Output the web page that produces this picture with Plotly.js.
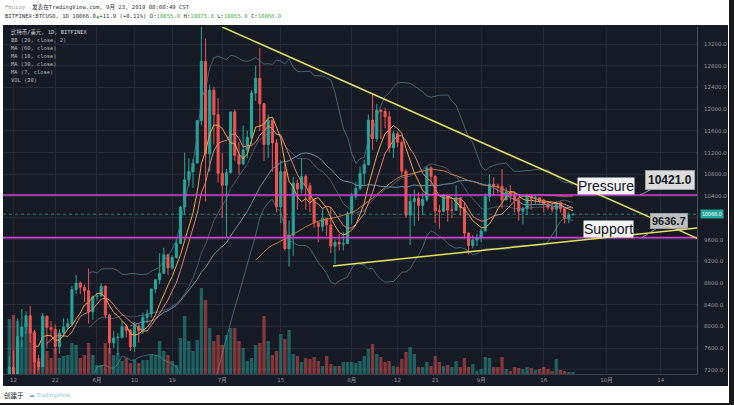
<!DOCTYPE html>
<html><head><meta charset="utf-8">
<script src="https://cdn.plot.ly/plotly-3.0.1.min.js"></script>
<style>html,body{margin:0;padding:0;background:#fff;overflow:hidden}#chart{width:734px;height:405px}</style>
</head><body><div id="chart"></div>
<script>
// ---- data (daily candles, first day 2019-05-11) ----
const firstDay = [2019, 4, 11];
const opens = [6350,7250,6970,7810,7990,8200,7880,7350,7260,8190,7980,7950,7630,7880,7990,8050,8680,8800,8720,8660,8270,
8550,8560,8740,8210,7700,7790,7800,8000,7930,7630,8010,7920,8170,8230,8690,8860,8980,9320,9080,9270,9530,10200,10700,10850,11010,11790,12880,11180,12350,11900,
10820,10600,10830,11950,11150,10990,11250,11480,12300,12570,12100,11350,11800,11380,10200,10850,9430,9680,10640,10530,10760,10590,10330,9910,9840,9990,9870,9480,9550,9520,9530,
10080,10400,10540,10820,10980,11800,11460,11980,11960,11860,11290,11550,11390,10860,10050,10300,10360,10230,10340,10920,10760,10130,10120,10400,10140,10140,10370,10190,9720,9490,9590,
9630,9760,10390,10620,10590,10580,10330,10480,10400,10330,10120,10170,10410,10360,10370,10310,10260,10190,10160,10280,10170,9990,10055];
const highs = [7450,7550,8150,8320,8280,8380,7940,7480,8250,8200,8100,8040,7950,8150,8150,8750,8950,8830,8770,9070,8570,
8620,8800,8760,8230,7920,7880,8100,8040,7960,8080,8040,8260,8310,8700,8870,9350,9450,9340,9310,9600,10220,11200,11100,11080,11800,13880,13300,12450,12420,12200,
11200,10900,11950,12000,11400,11700,11600,12350,12800,13130,12100,11900,11800,11450,11050,11000,9950,10750,10700,11100,10800,10650,10350,9920,10180,10000,10200,9600,9700,9740,10120,
10460,10660,10940,11070,11900,12300,12100,12000,12030,11960,11600,11590,11430,10900,10430,10520,10470,10470,10950,10950,10780,10240,10440,10400,10330,10600,10380,10290,9730,9680,9700,
9800,10450,10800,10750,10630,10900,10560,10600,10480,10380,10200,10450,10440,10420,10380,10350,10270,10280,10300,10300,10180,10100,10075];
const lows = [6350,6800,6880,7620,7860,7700,6600,7200,7260,7600,7800,7500,7500,7800,7950,8000,8600,8600,8450,8060,8120,
8480,8550,8150,7520,7600,7470,7780,7800,7550,7530,7700,7860,8060,8160,8620,8780,8980,8950,9050,9250,9530,10050,10580,10550,11000,11700,10300,10850,11350,10650,
10000,9650,10820,11050,10800,10980,11100,11350,12150,11600,11050,11100,10850,10100,9900,9400,9100,9300,10150,10450,10150,10100,9820,9550,9750,9670,9350,9150,9400,9400,9530,
9880,10340,10500,10600,10960,11250,11400,11450,11650,11200,11100,11300,10750,10000,9500,9850,9950,10050,10300,10600,9900,9800,10100,9930,10000,10140,10040,9620,9330,9440,9480,
9550,9750,10300,10400,10450,10170,10330,10300,10100,9950,9880,10050,10150,10250,10270,10100,10150,10100,9620,10100,9900,9900,10055];
const closes = [7250,6970,7810,7990,8200,7880,7350,7260,8190,7980,7950,7630,7880,7990,8050,8680,8800,8720,8660,8270,8550,
8560,8740,8210,7700,7790,7800,8000,7930,7630,8010,7920,8170,8230,8690,8860,8980,9320,9080,9270,9530,10200,10700,10850,11010,11790,12880,11180,12350,11900,10820,
10600,10830,11950,11150,10990,11250,11480,12300,12570,12100,11350,11800,11380,10200,10850,9430,9680,10640,10530,10760,10590,10330,9910,9840,9990,9870,9480,9550,9520,9530,10080,
10400,10540,10820,10980,11800,11460,11980,11960,11860,11290,11550,11390,10860,10050,10300,10360,10230,10340,10920,10760,10130,10120,10400,10140,10140,10370,10190,9720,9490,9590,9630,
9760,10390,10620,10590,10580,10330,10480,10400,10330,10120,10170,10410,10360,10370,10310,10260,10190,10160,10280,10170,9990,10054,10066];
// volume, BTC
const volumes = [27500,29500,26500,17000,25500,23000,21500,8000,29000,11500,8000,13000,8000,9000,9500,15500,14500,8000,9500,15500,9500,
4500,4500,15500,13000,9500,10500,6500,8000,5500,7000,5500,7000,7000,9500,9500,16500,11500,9500,6500,4500,18000,29000,16500,11500,17000,43000,37000,23000,16500,19500,
14500,19500,23000,23000,16500,13000,6500,8000,14500,15500,29000,16500,9500,11500,20000,17500,22000,10000,9000,6000,8000,7500,8500,6500,4000,9000,5000,4000,4000,6000,6000,
6000,5500,6500,9000,12500,15000,10000,8500,6000,6500,4000,3500,7500,11000,13500,10000,3500,3500,6000,4000,9000,6000,4000,4500,3500,6500,3500,8000,3500,5000,1500,
2500,8500,8000,3500,3500,8500,2500,1500,3500,3000,2500,3500,3000,2000,2500,3500,2500,1500,7500,2000,1500,1000,1000];
// x-axis ticks
const tickDates = ['2019-05-12','2019-05-22','2019-06-01','2019-06-10','2019-06-19','2019-07-01','2019-07-15','2019-08-01','2019-08-12','2019-08-21','2019-09-01','2019-09-16','2019-10-01','2019-10-14'];
const tickText = ['12','22','6月','10','19','7月','15','8月','12','21','9月','16','10月','14'];
const priceTicks = [7200,7600,8000,8400,8800,9200,9600,10000,10400,10800,11200,11600,12000,12400,12800,13200];
const hiddenTick = 10000; // covered by the last-price label
// drawn levels and trend lines
const pressureLevel = 10421.0;
const supportLevel = 9636.7;
const lastPrice = 10066.0;
const upperTrend = {x:['2019-07-01 00:00','2019-10-23 00:00'], y:[13513,9614]};
const lowerTrend = {x:['2019-07-27 12:00','2019-10-23 00:00'], y:[9114,9816]};
const legendLines = ['比特币/美元, 1D, BITFINEX','BB (20, close, 2)','MA (60, close)','MA (10, close)','MA (30, close)','MA (7, close)','VOL (20)'];

// ---- helpers ----
function dayStr(i){const d=new Date(Date.UTC(firstDay[0],firstDay[1],firstDay[2]+i));return d.toISOString().slice(0,10);}
const dates = closes.map((_,i)=>dayStr(i));
function sma(a,n){return a.map((_,i)=>i<n-1?null:a.slice(i-n+1,i+1).reduce((s,v)=>s+v,0)/n);}
function boll(a,n,k){const m=sma(a,n),u=[],l=[];a.forEach((_,i)=>{if(i<n-1){u.push(null);l.push(null);return;}const w=a.slice(i-n+1,i+1);const sd=Math.sqrt(w.reduce((s,v)=>s+(v-m[i])*(v-m[i]),0)/n);u.push(m[i]+k*sd);l.push(m[i]-k*sd);});return {m,u,l};}
const bb = boll(closes,20,2);

const UP='#26a69a', DN='#ef5350';
const L=3,R=697,T=27,B=374;
const px=x=>(x-L)/(R-L), py=y=>(B-y)/(B-T);

const traces = [
 {type:'bar', x:dates, y:volumes, yaxis:'y2', width:0.8*86400000,
  marker:{color:volumes.map((_,i)=>closes[i]>=opens[i]?'rgba(38,166,154,0.5)':'rgba(239,83,80,0.5)'), line:{width:0}}, hoverinfo:'skip'},
 {type:'candlestick', x:dates, open:opens, high:highs, low:lows, close:closes,
  increasing:{line:{color:UP,width:1}, fillcolor:UP}, decreasing:{line:{color:DN,width:1}, fillcolor:DN},
  whiskerwidth:0, hoverinfo:'skip'},
 {type:'scatter', mode:'lines', x:dates, y:bb.u, line:{color:'rgba(80,125,140,0.75)', width:1}, hoverinfo:'skip'},
 {type:'scatter', mode:'lines', x:dates, y:bb.l, line:{color:'rgba(80,125,140,0.75)', width:1}, hoverinfo:'skip'},
 {type:'scatter', mode:'lines', x:dates, y:bb.m, line:{color:'rgba(110,135,155,0.55)', width:1}, hoverinfo:'skip'},
 {type:'scatter', mode:'lines', x:dates, y:sma(closes,60), line:{color:'#c47a3c', width:1}, hoverinfo:'skip'},
 {type:'scatter', mode:'lines', x:dates, y:sma(closes,30), line:{color:'#6c8fa8', width:1}, hoverinfo:'skip'},
 {type:'scatter', mode:'lines', x:dates, y:sma(closes,10), line:{color:'#e0806e', width:1}, hoverinfo:'skip'},
 {type:'scatter', mode:'lines', x:dates, y:sma(closes,7), line:{color:'#f2a54a', width:1}, hoverinfo:'skip'}
];

const mono = 'DejaVu Sans Mono, Noto Sans CJK SC, monospace';
const sans = 'Liberation Sans, Arial, sans-serif';
const ann = [];
// header
ann.push({xref:'paper',yref:'paper',x:px(3),y:py(7),xanchor:'left',yanchor:'middle',showarrow:false,text:'Fmuzzy',font:{family:mono,size:5.6,color:'#9aa0a6'}});
ann.push({xref:'paper',yref:'paper',x:px(30),y:py(7),xanchor:'left',yanchor:'middle',showarrow:false,text:'发表在TradingView.com, 9月 23, 2019 08:08:49 CST',font:{family:mono,size:5.6,color:'#333'}});
const G='#4caf50';
ann.push({xref:'paper',yref:'paper',x:px(3),y:py(16),xanchor:'left',yanchor:'middle',showarrow:false,
 text:'BITFINEX:BTCUSD, 1D 10066.0<span style="color:'+G+'">▲</span>+11.9 (+0.11%) O:<span style="color:'+G+'">10055.0</span> H:<span style="color:'+G+'">10075.0</span> L:<span style="color:'+G+'">10055.0</span> C:<span style="color:'+G+'">10066.0</span>',
 font:{family:mono,size:5.6,color:'#333'}});
// legend lines
legendLines.forEach((t,i)=>ann.push({xref:'paper',yref:'paper',x:px(9),y:py(32+8*i),xanchor:'left',yanchor:'middle',showarrow:false,text:t,font:{family:mono,size:5.4,color:i===0?'#d1d4dc':'#b2b5be'}}));
// labels
ann.push({xref:'paper',yref:'paper',x:px(606),y:py(186),xanchor:'center',yanchor:'middle',showarrow:false,text:'Pressure',bgcolor:'#f2f2f2',borderpad:0,font:{family:sans,size:14,color:'#131722'}});
ann.push({xref:'paper',yref:'paper',x:px(608.5),y:py(228.5),xanchor:'center',yanchor:'middle',showarrow:false,text:'Support',bgcolor:'#f2f2f2',borderpad:0,font:{family:sans,size:14,color:'#131722'}});
ann.push({xref:'paper',yref:'y',x:px(640),y:pressureLevel,ax:30,ay:-15,showarrow:true,arrowhead:0,arrowwidth:1,arrowcolor:'#9e9e9e',
 text:'<b>'+pressureLevel.toFixed(1)+'</b>',bgcolor:'#dcdcdc',bordercolor:'#9e9e9e',borderwidth:1,borderpad:2,font:{family:sans,size:12,color:'#131722'}});
ann.push({xref:'paper',yref:'y',x:px(642),y:supportLevel,ax:27,ay:-17,showarrow:true,arrowhead:0,arrowwidth:1,arrowcolor:'#9e9e9e',
 text:'<b>'+supportLevel.toFixed(1)+'</b>',bgcolor:'rgba(220,220,220,0.85)',bordercolor:'#9e9e9e',borderwidth:1,borderpad:1,font:{family:sans,size:11,color:'#131722'}});
// last price label
ann.push({xref:'paper',yref:'y',x:px(700),y:lastPrice,xanchor:'left',yanchor:'middle',showarrow:false,text:lastPrice.toFixed(1),bgcolor:UP,borderpad:1,font:{family:sans,size:5.5,color:'#e8fff9'}});
// footer
ann.push({xref:'paper',yref:'paper',x:px(2),y:py(395),xanchor:'left',yanchor:'middle',showarrow:false,text:'创建于',font:{family:'Noto Sans CJK SC, sans-serif',size:6.5,color:'#131722'}});
ann.push({xref:'paper',yref:'paper',x:px(27),y:py(395),xanchor:'left',yanchor:'middle',showarrow:false,text:'<span style="color:#5aa9c4">☁</span> TradingView',font:{family:'DejaVu Sans, sans-serif',size:5.6,color:'#8cc8d8'}});

const shapes = [
 {type:'rect',xref:'paper',yref:'paper',x0:0,x1:px(728),y0:py(386),y1:py(25),fillcolor:'#161a25',line:{width:0},layer:'below'},
 {type:'rect',xref:'paper',yref:'paper',x0:px(729),x1:px(735),y0:py(406),y1:py(-1),fillcolor:'#1a1a1a',line:{width:0},layer:'below'},
 {type:'rect',xref:'paper',yref:'paper',x0:px(-1),x1:px(735),y0:py(406),y1:py(403),fillcolor:'#1a1a1a',line:{width:0},layer:'below'},
 {type:'line',xref:'paper',yref:'y',x0:0,x1:1,y0:lastPrice,y1:lastPrice,line:{color:'rgba(38,166,154,0.7)',width:1,dash:'dot'}},
 {type:'line',xref:'paper',yref:'y',x0:0,x1:1,y0:pressureLevel,y1:pressureLevel,line:{color:'#d23fd6',width:1.6}},
 {type:'line',xref:'paper',yref:'y',x0:0,x1:1,y0:supportLevel,y1:supportLevel,line:{color:'#d23fd6',width:1.6}},
 {type:'line',xref:'x',yref:'y',x0:upperTrend.x[0],x1:upperTrend.x[1],y0:upperTrend.y[0],y1:upperTrend.y[1],line:{color:'#e4e45a',width:1.5}},
 {type:'line',xref:'x',yref:'y',x0:lowerTrend.x[0],x1:lowerTrend.x[1],y0:lowerTrend.y[0],y1:lowerTrend.y[1],line:{color:'#e4e45a',width:1.5}}
];

const layout = {
 width:734, height:405, margin:{l:L,r:734-R,t:T,b:405-B,pad:0},
 paper_bgcolor:'#ffffff', plot_bgcolor:'#161a25', showlegend:false,
 xaxis:{type:'date', range:['2019-05-09 11:45','2019-10-22 16:48'], rangeslider:{visible:false},
   tickmode:'array', tickvals:tickDates, ticktext:tickText, showgrid:true, gridcolor:'#262a36', gridwidth:1,
   tickfont:{family:'DejaVu Sans, Noto Sans CJK SC, sans-serif',size:5.5,color:'#9598a1'}, ticks:'', zeroline:false,
   showline:true, linecolor:'#3a3e4a', fixedrange:true},
 yaxis:{side:'right', range:[7126,13513], tickmode:'array', tickvals:priceTicks, ticktext:priceTicks.map(v=>v===hiddenTick?'':v.toFixed(1)),
   showgrid:true, gridcolor:'#262a36', gridwidth:1, zeroline:false, showline:true, linecolor:'#4a4e59',
   tickfont:{family:'DejaVu Sans, sans-serif',size:5.5,color:'#9598a1'}, ticks:'outside', ticklen:5, tickcolor:'rgba(0,0,0,0)', fixedrange:true},
 yaxis2:{overlaying:'y', range:[0,173500], visible:false, fixedrange:true},
 shapes:shapes, annotations:ann
};
Plotly.newPlot('chart', traces, layout, {staticPlot:true, displayModeBar:false});
</script></body></html>
